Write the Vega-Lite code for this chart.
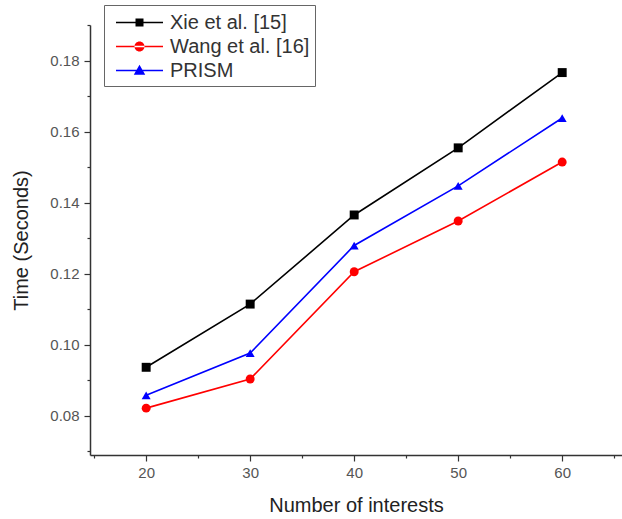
{
  "$schema": "https://vega.github.io/schema/vega-lite/v6.json",
  "width": 532,
  "height": 430,
  "autosize": {"type": "none"},
  "padding": {"left": 90, "top": 25, "right": 0, "bottom": 64},
  "background": "white",
  "config": {
    "view": {"stroke": null},
    "font": "Liberation Sans",
    "axis": {"grid": false, "domainColor": "#333", "domainWidth": 1.5, "tickColor": "#333", "tickWidth": 1.2, "labelColor": "#555", "labelFont": "Liberation Sans", "titleFont": "Liberation Sans", "titleFontWeight": "normal", "titleColor": "#222"},
    "legend": {"orient": "none", "legendX": 14, "legendY": -20, "strokeColor": "#666", "fillColor": "white", "padding": 5, "labelFontSize": 20, "labelColor": "#333", "labelFont": "Liberation Sans",
      "symbolSize": 625, "labelOffset": 18, "rowPadding": 1, "symbolOffset": 18, "symbolStrokeWidth": 0, "symbolOpacity": 1}
  },
  "data": {"values": [
    {"n": 20, "method": "Xie et al. [15]", "t": 0.0937},
    {"n": 30, "method": "Xie et al. [15]", "t": 0.1115},
    {"n": 40, "method": "Xie et al. [15]", "t": 0.1366},
    {"n": 50, "method": "Xie et al. [15]", "t": 0.1555},
    {"n": 60, "method": "Xie et al. [15]", "t": 0.1767},
    {"n": 20, "method": "Wang et al. [16]", "t": 0.0822},
    {"n": 30, "method": "Wang et al. [16]", "t": 0.0904},
    {"n": 40, "method": "Wang et al. [16]", "t": 0.1206},
    {"n": 50, "method": "Wang et al. [16]", "t": 0.1349},
    {"n": 60, "method": "Wang et al. [16]", "t": 0.1515},
    {"n": 20, "method": "PRISM", "t": 0.0858},
    {"n": 30, "method": "PRISM", "t": 0.0977},
    {"n": 40, "method": "PRISM", "t": 0.1280},
    {"n": 50, "method": "PRISM", "t": 0.1448},
    {"n": 60, "method": "PRISM", "t": 0.1639}
  ]},
  "encoding": {
    "x": {"field": "n", "type": "quantitative", "scale": {"domain": [14.6, 65.75], "nice": false, "zero": false},
      "axis": {"title": "Number of interests", "titleFontSize": 20, "titlePadding": 15, "labelFontSize": 15, "labelPadding": 4,
        "values": [15, 20, 25, 30, 35, 40, 45, 50, 55, 60, 65],
        "labelExpr": "datum.value % 10 === 0 ? datum.label : ''",
        "tickSize": {"condition": {"test": "datum.value % 10 === 0", "value": 6}, "value": 3}}},
    "y": {"field": "t", "type": "quantitative", "scale": {"domain": [0.069, 0.1901], "nice": false, "zero": false},
      "axis": {"title": "Time (Seconds)", "titleFontSize": 20, "titlePadding": 18, "labelFontSize": 15, "labelPadding": 5, "format": ".2f",
        "values": [0.07, 0.08, 0.09, 0.1, 0.11, 0.12, 0.13, 0.14, 0.15, 0.16, 0.17, 0.18, 0.19],
        "labelExpr": "round(datum.value*100) % 2 === 0 ? datum.label : ''",
        "tickSize": {"condition": {"test": "round(datum.value*100) % 2 === 0", "value": 6}, "value": 3}}}
  },
  "layer": [
    {"mark": {"type": "line", "strokeWidth": 1.6},
      "encoding": {"color": {"field": "method", "type": "nominal", "legend": null,
        "scale": {"domain": ["Xie et al. [15]", "Wang et al. [16]", "PRISM"], "range": ["#000000", "#ff0000", "#0000ff"]}}}},
    {"mark": {"type": "point", "filled": true, "size": 80, "opacity": 1},
      "encoding": {
        "color": {"field": "method", "type": "nominal", "legend": null},
        "shape": {"field": "method", "type": "nominal", "legend": null, "scale": {"domain": ["Xie et al. [15]", "Wang et al. [16]", "PRISM"], "range": ["square", "circle", "triangle-up"]}}
      }
    },
    {"mark": {"type": "point", "filled": true, "size": 625, "opacity": 0},
      "encoding": {
        "color": {"field": "method", "type": "nominal", "legend": {"title": null}},
        "shape": {"field": "method", "type": "nominal", "legend": {"title": null},
          "scale": {"domain": ["Xie et al. [15]", "Wang et al. [16]", "PRISM"], "range": [
            "M-1.88,-0.064H1.88V0.064H-1.88Z M-0.32,-0.32H0.32V0.32H-0.32Z",
            "M-1.88,-0.064H1.88V0.064H-1.88Z M-0.4,0A0.4,0.4 0 1,0 0.4,0A0.4,0.4 0 1,0 -0.4,0Z",
            "M-1.88,-0.064H1.88V0.064H-1.88Z M0,-0.46L0.46,0.34H-0.46Z"]}}
      }
    }
  ],
  "resolve": {"scale": {"shape": "independent"}, "legend": {"shape": "independent", "color": "independent"}}
}
